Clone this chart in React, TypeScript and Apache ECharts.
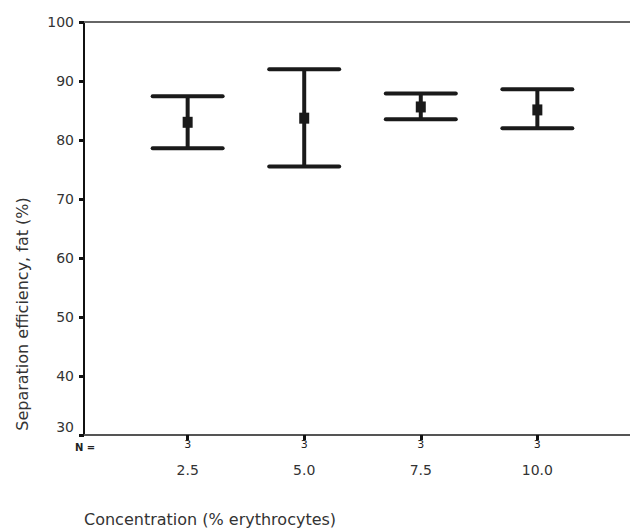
import React, { useEffect, useRef } from "react";
import * as echarts from "echarts";

const concentrations = [2.5, 5.0, 7.5, 10.0];
const nCounts = [3, 3, 3, 3];
const means = [83.0, 83.7, 85.6, 85.1];
const lowers = [78.6, 75.5, 83.5, 82.0];
const uppers = [87.4, 92.0, 87.9, 88.6];
const yTicks = [30, 40, 50, 60, 70, 80, 90, 100];

const FONT = "DejaVu Sans, Arial, sans-serif";
const X_MIN = 0.277;
const X_MAX = 12.223;

export default function App() {
  const ref = useRef<HTMLDivElement>(null);
  useEffect(() => {
    if (!ref.current) return;
    const chart = echarts.init(ref.current, null, { renderer: "svg" });
    const data = concentrations.map((c, i) => [c, means[i], lowers[i], uppers[i]]);
    chart.setOption({
      animation: false,
      backgroundColor: "#fff",
      textStyle: { fontFamily: FONT },
      grid: { left: 84, top: 22, width: 557, height: 413 },
      xAxis: [
        {
          type: "value",
          min: X_MIN,
          max: X_MAX,
          position: "bottom",
          axisLine: { show: true, onZero: false, lineStyle: { color: "#555", width: 2 } },
          axisTick: {
            show: true,
            customValues: concentrations,
            length: 5,
            lineStyle: { color: "#111", width: 3 },
          },
          axisLabel: {
            show: true,
            customValues: concentrations,
            margin: 2,
            formatter: (v: number) => {
              const i = concentrations.indexOf(v);
              return `{n|${nCounts[i]}}\n{c|${v.toFixed(1)}}`;
            },
            rich: {
              n: { fontSize: 11, lineHeight: 14, color: "#222", fontFamily: FONT },
              c: { fontSize: 14, lineHeight: 38, color: "#333", fontFamily: FONT },
            },
          },
          splitLine: { show: false },
        },
        {
          type: "value",
          min: X_MIN,
          max: X_MAX,
          position: "top",
          axisLine: { show: true, lineStyle: { color: "#666", width: 2 } },
          axisTick: { show: false },
          axisLabel: { show: false },
          splitLine: { show: false },
        },
      ],
      yAxis: {
        type: "value",
        min: 30,
        max: 100,
        interval: 10,
        axisLine: { show: true, lineStyle: { color: "#111", width: 2 } },
        axisTick: { show: true, length: 5, lineStyle: { color: "#111", width: 3 } },
        axisLabel: {
          margin: 10,
          formatter: (v: number) => (v === yTicks[0] ? `{low|${v}}` : `{n|${v}}`),
          rich: {
            n: { fontSize: 14, color: "#333", fontFamily: FONT },
            low: { fontSize: 14, color: "#333", fontFamily: FONT, padding: [0, 0, 16, 0] },
          },
        },
        splitLine: { show: false },
      },
      graphic: [
        {
          type: "text",
          x: 22,
          y: 314,
          rotation: Math.PI / 2,
          style: {
            text: "Separation efficiency, fat (%)",
            fontSize: 16,
            fill: "#333",
            fontFamily: FONT,
            align: "center",
            verticalAlign: "middle",
          },
        },
        {
          type: "text",
          left: 75,
          top: 442,
          style: { text: "N =", fontSize: 10, fontWeight: "bold", fill: "#222", fontFamily: FONT },
        },
        {
          type: "text",
          left: 84,
          top: 511,
          style: {
            text: "Concentration (% erythrocytes)",
            fontSize: 16,
            fill: "#333",
            fontFamily: FONT,
          },
        },
      ],
      series: [
        {
          type: "custom",
          xAxisIndex: 0,
          data,
          renderItem: (params: any, api: any) => {
            const x = api.value(0);
            const top = api.coord([x, api.value(3)]);
            const bot = api.coord([x, api.value(2)]);
            const mid = api.coord([x, api.value(1)]);
            const hw = 35;
            const color = "#1a1a1a";
            return {
              type: "group",
              children: [
                {
                  type: "line",
                  shape: { x1: top[0], y1: top[1], x2: bot[0], y2: bot[1] },
                  style: { stroke: color, lineWidth: 4 },
                },
                {
                  type: "line",
                  shape: { x1: top[0] - hw, y1: top[1], x2: top[0] + hw, y2: top[1] },
                  style: { stroke: color, lineWidth: 4, lineCap: "round" },
                },
                {
                  type: "line",
                  shape: { x1: bot[0] - hw, y1: bot[1], x2: bot[0] + hw, y2: bot[1] },
                  style: { stroke: color, lineWidth: 4, lineCap: "round" },
                },
                {
                  type: "rect",
                  shape: { x: mid[0] - 5, y: mid[1] - 5.5, width: 10, height: 11 },
                  style: { fill: color },
                },
              ],
            };
          },
        },
      ],
    });
    return () => chart.dispose();
  }, []);
  return (
    <div
      ref={ref}
      style={{ position: "fixed", left: 0, top: 0, width: 700, height: 530, background: "#fff" }}
    />
  );
}
